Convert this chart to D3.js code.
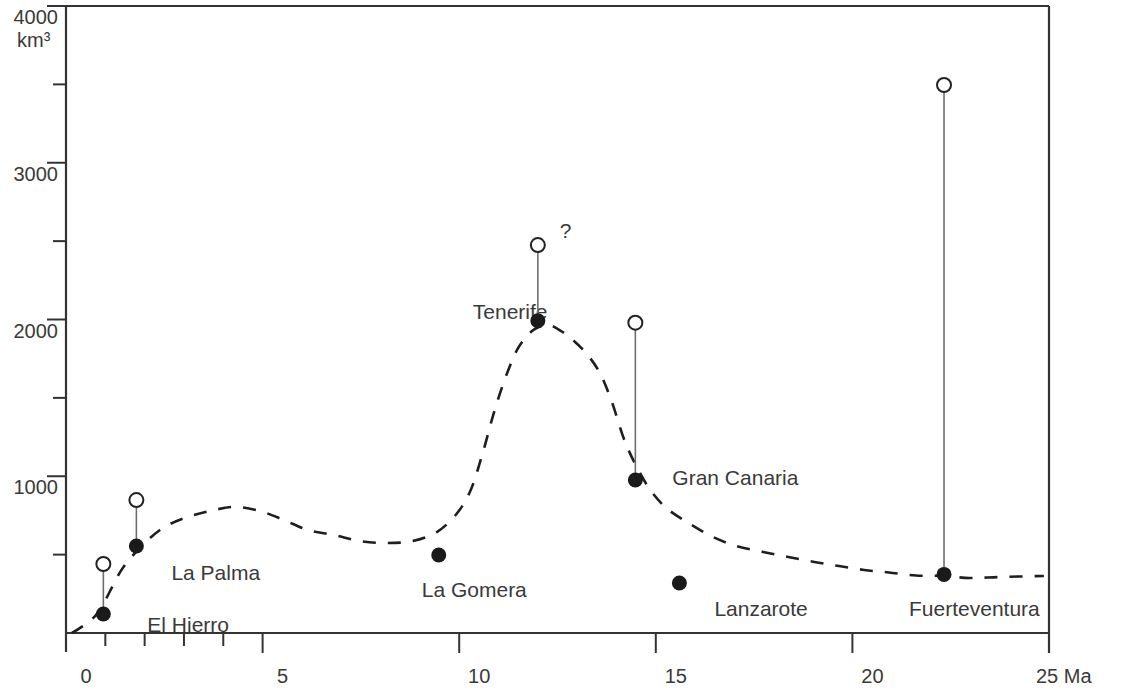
<!DOCTYPE html>
<html>
<head>
<meta charset="utf-8">
<script src="https://cdn.jsdelivr.net/npm/d3@7"></script>
<style>
  html, body { margin: 0; padding: 0; background: #fff; }
  svg { display: block; }
  text { font-family: "Liberation Sans", Arial, Helvetica, sans-serif; fill: #3a3a3a; }
</style>
</head>
<body>
<svg id="chart" width="1126" height="691"></svg>
<script>
// ---- data ----
const islands = ["El Hierro", "La Palma", "La Gomera", "Tenerife", "Gran Canaria", "Lanzarote", "Fuerteventura"];
const agesMa = [0.95, 1.79, 9.48, 12.0, 14.48, 15.6, 22.33];
const volumesKm3 = [121, 555, 498, 1992, 976, 319, 374];
const maxVolumesKm3 = [440, 848, null, 2475, 1980, null, 3496];
const uncertainIsland = "Tenerife";

// trend curve (dashed)
const trendAges = [0.15, 0.74, 1.5, 2.39, 3.02, 3.66, 4.27, 4.93, 5.54, 6.15, 6.81, 7.47, 8.16, 8.82, 9.43, 9.91, 10.26, 10.6, 10.9, 11.23, 11.53, 11.9, 12.25, 12.6, 13.13, 13.52, 13.82, 14.23, 14.53, 14.86, 15.27, 15.83, 16.46, 17.05, 17.73, 18.37, 19.03, 19.66, 20.3, 20.93, 21.62, 22.33, 22.97, 23.73, 24.87];
const trendVolumes = [0, 108, 434, 657, 734, 778, 804, 778, 721, 657, 625, 587, 574, 587, 644, 753, 893, 1150, 1420, 1665, 1831, 1935, 1965, 1925, 1812, 1684, 1518, 1212, 1053, 912, 797, 702, 612, 555, 517, 485, 453, 427, 402, 386, 367, 364, 351, 357, 364];

const xMajorTicks = [0, 5, 10, 15, 20, 25];
const xMinorTicks = [1, 2, 3, 4];
const yMajorTicks = [1000, 2000, 3000, 4000];
const yMinorTicks = [500, 1500, 2500, 3500];
const yUnit = "km³";
const xUnit = "Ma";

// ---- layout ----
const L = 66, R = 1049, T = 6, B = 633;
// label offsets relative to each filled point (px)
const labelOffsets = [[44, 18], [35, 34], [-17, 42], [-65, -2], [37, 5], [35, 33], [-35, 42]];

const svg = d3.select("#chart");
const x = d3.scaleLinear().domain([0, 25]).range([L, R]);
const y = d3.scaleLinear().domain([0, 4000]).range([B, T]);

const axisColor = "#333";

// x axis ticks
const gx = svg.append("g");
gx.selectAll("line.minor").data(xMinorTicks).join("line")
  .attr("x1", d => x(d)).attr("x2", d => x(d))
  .attr("y1", B).attr("y2", B + 13)
  .attr("stroke", axisColor).attr("stroke-width", 2);
gx.selectAll("line.major").data(xMajorTicks.filter(d => d > 0 && d < 25)).join("line")
  .attr("x1", d => x(d)).attr("x2", d => x(d))
  .attr("y1", B).attr("y2", B + 20)
  .attr("stroke", axisColor).attr("stroke-width", 2);
gx.selectAll("text").data(xMajorTicks).join("text")
  .attr("x", d => d === 25 ? x(d) - 13 : x(d) + 20)
  .attr("y", 683)
  .attr("text-anchor", d => d === 25 ? "start" : "middle")
  .attr("font-size", 20)
  .text(d => d === 25 ? d + " " + xUnit : d);

// y axis ticks
const gy = svg.append("g");
gy.selectAll("line.major").data(yMajorTicks).join("line")
  .attr("x1", L - 19).attr("x2", L)
  .attr("y1", d => y(d)).attr("y2", d => y(d))
  .attr("stroke", axisColor).attr("stroke-width", 2);
gy.selectAll("line.minor").data(yMinorTicks).join("line")
  .attr("x1", L - 13).attr("x2", L)
  .attr("y1", d => y(d)).attr("y2", d => y(d))
  .attr("stroke", axisColor).attr("stroke-width", 2);
gy.selectAll("text").data(yMajorTicks).join("text")
  .attr("x", 58).attr("y", d => y(d) + 18)
  .attr("text-anchor", "end").attr("font-size", 20)
  .text(d => d);
svg.append("text").attr("x", 17).attr("y", 47).attr("font-size", 20).text(yUnit);

// frame
svg.append("line").attr("x1", L).attr("x2", L).attr("y1", T).attr("y2", B + 19)
  .attr("stroke", axisColor).attr("stroke-width", 2.2);
svg.append("line").attr("x1", L).attr("x2", R).attr("y1", B).attr("y2", B)
  .attr("stroke", axisColor).attr("stroke-width", 2.2);
svg.append("line").attr("x1", L).attr("x2", R).attr("y1", T).attr("y2", T)
  .attr("stroke", axisColor).attr("stroke-width", 2.2);
svg.append("line").attr("x1", R).attr("x2", R).attr("y1", T).attr("y2", B + 20)
  .attr("stroke", axisColor).attr("stroke-width", 2.2);

// trend curve
const trend = trendAges.map((a, i) => [a, trendVolumes[i]]);
svg.append("path")
  .attr("d", d3.line().x(d => x(d[0])).y(d => y(d[1])).curve(d3.curveCatmullRom.alpha(0.5))(trend))
  .attr("fill", "none").attr("stroke", "#1e1e1e").attr("stroke-width", 2.6)
  .attr("stroke-dasharray", "13 12");

const pts = islands.map((n, i) => ({ name: n, age: agesMa[i], vol: volumesKm3[i], max: maxVolumesKm3[i], off: labelOffsets[i] }));

// labels
svg.append("g").selectAll("text").data(pts).join("text")
  .attr("x", d => x(d.age) + d.off[0])
  .attr("y", d => y(d.vol) + d.off[1])
  .attr("font-size", 21)
  .text(d => d.name);

// stems
svg.append("g").selectAll("line").data(pts.filter(d => d.max != null)).join("line")
  .attr("x1", d => x(d.age)).attr("x2", d => x(d.age))
  .attr("y1", d => y(d.max)).attr("y2", d => y(d.vol))
  .attr("stroke", "#6e6e6e").attr("stroke-width", 1.6);

// open circles (maximum volumes)
svg.append("g").selectAll("circle").data(pts.filter(d => d.max != null)).join("circle")
  .attr("cx", d => x(d.age)).attr("cy", d => y(d.max)).attr("r", 7)
  .attr("fill", "#fff").attr("stroke", "#222").attr("stroke-width", 2);

// filled circles
svg.append("g").selectAll("circle").data(pts).join("circle")
  .attr("cx", d => x(d.age)).attr("cy", d => y(d.vol)).attr("r", 7.5)
  .attr("fill", "#1a1a1a");

// question mark
const t = pts.find(d => d.name === uncertainIsland);
svg.append("text").attr("x", x(t.age) + 22).attr("y", y(t.max) - 7)
  .attr("font-size", 21).text("?");
</script>
</body>
</html>
